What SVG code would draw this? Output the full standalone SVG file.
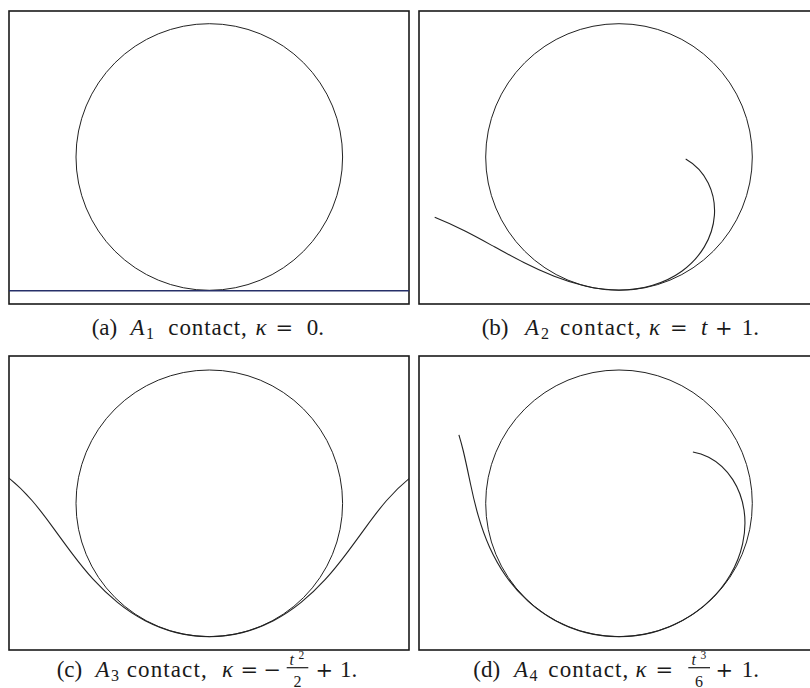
<svg xmlns="http://www.w3.org/2000/svg" width="810" height="688" viewBox="0 0 810 688">
<style>
.frame{fill:none;stroke:#1a1a1a;stroke-width:1.6}
.circ{fill:none;stroke:#222;stroke-width:1}
.crv{fill:none;stroke:#222;stroke-width:1.1}
.cap{font-family:"Liberation Serif",serif;font-size:23px;fill:#1a1a1a}
.it{font-style:italic}
.op{font-family:"DejaVu Serif","Liberation Serif",serif;font-size:21px}
.sub{font-size:16px}
.sup{font-size:11.5px}
.bar{stroke:#1a1a1a;stroke-width:1.2}
</style>
<defs>
<clipPath id="clipC"><rect x="9" y="356" width="400" height="294"/></clipPath>
</defs>
<rect width="810" height="688" fill="#fff"/>

<g id="panel-a">
<rect class="frame" x="9" y="11" width="400" height="293"/>
<circle class="circ" cx="209.3" cy="157" r="133.3"/>
</g>
<g id="panel-b">
<rect class="frame" x="419" y="11" width="400" height="293"/>
<circle class="circ" cx="619" cy="157" r="133.3"/>
</g>
<g id="panel-c">
<rect class="frame" x="9" y="356" width="400" height="294"/>
<circle class="circ" cx="209.3" cy="503.3" r="133.3"/>
</g>
<g id="panel-d">
<rect class="frame" x="419" y="356" width="400" height="294"/>
<circle class="circ" cx="619" cy="503.3" r="133.3"/>
</g>

<g id="curves">
<line id="line-a" x1="9" y1="290.7" x2="409" y2="290.7" stroke="#263069" stroke-width="1.6"/>
<path id="curve-b" class="crv" d="M434.7,217.3 C445.0,221.4 455.1,226.1 465.0,231.1 C474.9,236.1 484.7,241.5 494.4,246.8 C504.2,252.1 513.9,257.5 523.8,262.5 C533.7,267.5 543.9,272.2 554.2,276.3 C564.5,280.4 575.2,283.8 586.0,286.2 C596.9,288.6 607.9,290 619,290 C630.1,290 641.2,288.6 651.9,285.5 C662.6,282.4 672.8,277.7 681.8,271.2 C690.8,264.7 698.6,256.4 704.3,246.9 C710.0,237.4 713.6,226.5 714.4,215.4 C715.2,204.3 713.1,193.1 708.2,183.1 C703.3,173.2 695.4,164.6 685.7,159.1"/>
<path id="curve-c" class="crv" clip-path="url(#clipC)" d="M8.1,477.4 C16.8,484.3 24.7,492.1 32.0,500.5 C39.3,508.9 45.9,517.8 52.5,526.8 C59.1,535.8 65.5,544.7 72.2,553.6 C78.9,562.5 85.8,571.2 93.3,579.4 C100.8,587.6 108.9,595.4 117.5,602.4 C126.1,609.4 135.3,615.6 145.2,620.7 C155.1,625.8 165.5,629.9 176.3,632.6 C187.1,635.3 198.2,636.7 209.3,636.7 C220.4,636.7 231.5,635.3 242.3,632.6 C253.1,629.9 263.5,625.8 273.4,620.7 C283.3,615.6 292.5,609.4 301.1,602.4 C309.7,595.4 317.8,587.6 325.3,579.4 C332.8,571.2 339.7,562.5 346.4,553.6 C353.1,544.7 359.5,535.8 366.1,526.8 C372.7,517.8 379.3,508.9 386.6,500.5 C393.9,492.1 401.8,484.3 410.5,477.4"/>
<path id="curve-d" class="crv" d="M458.9,434.9 C460.5,440.2 462.0,445.6 463.3,451.0 C465.9,461.8 468.1,472.6 470.4,483.5 C472.7,494.4 475.2,505.2 478.3,515.9 C481.4,526.6 485.0,537.1 489.6,547.2 C494.2,557.3 499.6,567.1 506.0,576.2 C512.4,585.3 519.8,593.6 528.0,601.1 C536.2,608.6 545.3,615.1 555.1,620.4 C564.9,625.7 575.2,629.9 586.0,632.6 C596.8,635.4 607.9,636.7 619,636.7 C630.1,636.7 641.2,635.4 652.0,632.6 C662.8,629.9 673.2,625.7 682.9,620.3 C692.6,615.0 701.7,608.4 709.7,600.7 C717.7,593.0 724.8,584.3 730.4,574.7 C736.0,565.1 740.2,554.6 742.6,543.8 C745.0,533.0 745.7,521.7 744.1,510.7 C742.6,499.7 738.8,489.0 732.8,479.6 C726.8,470.3 718.6,462.3 708.7,457.2 C703.8,454.7 698.4,452.9 692.9,452.0"/>
</g>

<g id="caption-a" class="cap">
<text x="91.7" y="335">(a)</text>
<text class="it" x="130.5" y="335">A</text>
<text class="sub" x="146" y="338.5">1</text>
<text x="168.3" y="335" textLength="78.5" lengthAdjust="spacing">contact,</text>
<text class="it" x="255.5" y="335">κ</text>
<text class="op" x="275.5" y="335">=</text>
<text x="306.7" y="335">0.</text>
</g>
<g id="caption-b" class="cap">
<text x="481.7" y="335">(b)</text>
<text class="it" x="525" y="335">A</text>
<text class="sub" x="541" y="338.5">2</text>
<text x="560" y="335" textLength="81" lengthAdjust="spacing">contact,</text>
<text class="it" x="649" y="335">κ</text>
<text class="op" x="670" y="335">=</text>
<text class="it" x="701" y="335">t</text>
<text class="op" x="715" y="335">+</text>
<text x="741.7" y="335">1.</text>
</g>
<g id="caption-c" class="cap">
<text x="56.7" y="677">(c)</text>
<text class="it" x="95.5" y="677">A</text>
<text class="sub" x="111" y="680.5">3</text>
<text x="126.7" y="677" textLength="80" lengthAdjust="spacing">contact,</text>
<text class="it" x="222" y="677">κ</text>
<text class="op" x="240.5" y="677">=</text>
<text class="op" x="263.5" y="677">−</text>
<text class="it sub" x="289.5" y="664.5">t</text>
<text class="sup" x="298.5" y="659">2</text>
<line class="bar" x1="286.7" y1="667.7" x2="308.3" y2="667.7"/>
<text class="sub" x="293.5" y="686.5">2</text>
<text class="op" x="315.5" y="677">+</text>
<text x="340" y="677">1.</text>
</g>
<g id="caption-d" class="cap">
<text x="473.3" y="677">(d)</text>
<text class="it" x="514" y="677">A</text>
<text class="sub" x="529.5" y="680.5">4</text>
<text x="548.3" y="677" textLength="80" lengthAdjust="spacing">contact,</text>
<text class="it" x="635.5" y="677">κ</text>
<text class="op" x="655.5" y="677">=</text>
<text class="it sub" x="691.5" y="664.5">t</text>
<text class="sup" x="700.5" y="659">3</text>
<line class="bar" x1="688.3" y1="667.7" x2="710" y2="667.7"/>
<text class="sub" x="695" y="686.5">6</text>
<text class="op" x="715.5" y="677">+</text>
<text x="741.7" y="677">1.</text>
</g>
</svg>
